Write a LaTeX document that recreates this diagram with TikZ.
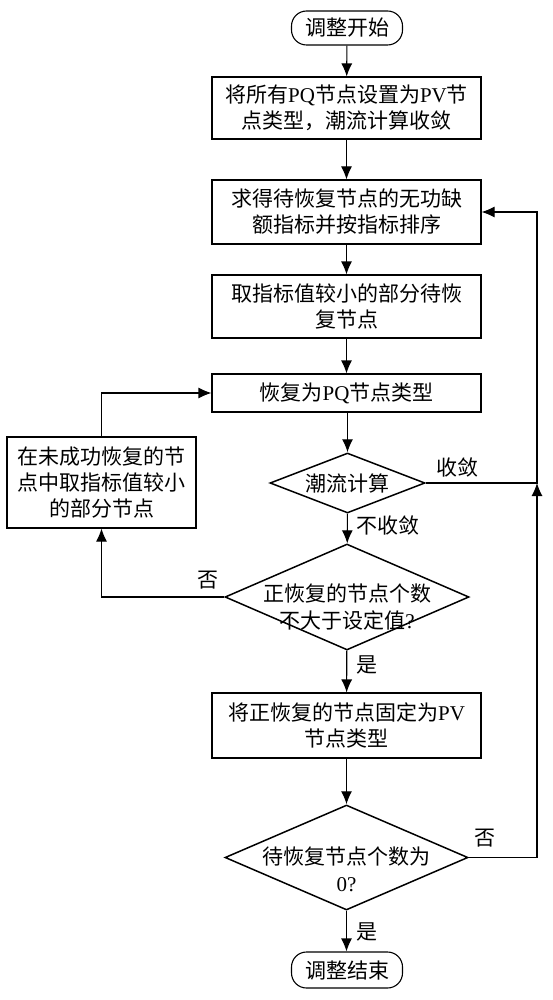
\documentclass[tikz,border=0pt]{standalone}
\usepackage{fontspec}
\setmainfont{Noto Sans CJK SC}
\newfontfamily\lat{Liberation Serif}
\usepackage{tikz}
\usetikzlibrary{shapes,arrows.meta,positioning,calc}
\tikzset{
    block/.style={rectangle, draw, line width=1.1pt, minimum width=269pt, text centered, align=center, inner sep=1pt, font=\fontsize{21}{26}\selectfont},
    term/.style={rectangle, draw, line width=1.1pt, rounded corners=15pt, minimum width=111pt, minimum height=34pt, font=\fontsize{21}{26}\selectfont},
    decision/.style={diamond, draw, line width=1.5pt, inner sep=0pt},
    dectext/.style={align=center, font=\fontsize{21}{27}\selectfont},
    line/.style={draw, line width=1.1pt, -{Latex[length=13pt,width=11pt]}},
    lbl/.style={inner sep=1pt, font=\fontsize{21}{24}\selectfont}
}

\begin{document}
\begin{tikzpicture}[x=1pt, y=-1pt]
    \useasboundingbox (0,0) rectangle (553,1000);

    % Main column
    \node [term] (start) at (347,28) {调整开始};
    \node [block, minimum height=62pt] (allpv) at (346.5,108) {将所有{\lat PQ}节点设置为{\lat PV}节\\点类型，潮流计算收敛};
    \node [block, minimum height=64pt] (sort) at (346.5,212) {求得待恢复节点的无功缺\\额指标并按指标排序};
    \node [block, minimum height=63pt] (pick) at (346.5,306.5) {取指标值较小的部分待恢\\复节点};
    \node [block, minimum height=38pt] (topq) at (346.5,393) {恢复为{\lat PQ}节点类型};
    \node [decision, minimum width=155pt, minimum height=60pt,
           label={[dectext]center:潮流计算}] (flow) at (347.5,483) {};
    \node [decision, minimum width=244pt, minimum height=106pt,
           label={[dectext, yshift=-10pt]center:{正恢复的节点个数\\不大于设定值{\lat ?}}}] (count) at (347,597) {};
    \node [block, minimum height=65pt] (fixpv) at (346.5,725.5) {将正恢复的节点固定为{\lat PV}\\节点类型};
    \node [decision, minimum width=243pt, minimum height=105pt,
           label={[dectext, yshift=-12pt]center:{待恢复节点个数为\\{\lat 0?}}}] (zero) at (346.5,857.5) {};
    \node [term, minimum height=36pt] (stop) at (347,970) {调整结束};

    % Side box
    \node [block, minimum width=189pt, minimum height=91pt] (retry) at (101.5,482.5) {在未成功恢复的节\\点中取指标值较小\\的部分节点};

    % Junction on the right
    \coordinate (jn) at (537,483);

    % Connections
    \path [line] (start) -- (allpv);
    \path [line] (allpv) -- (sort);
    \path [line] (sort) -- (pick);
    \path [line] (pick) -- (topq);
    \path [line] (topq.south -| flow.north) -- (flow);
    \path [line] (flow) -- (count);
    \path [line] (count) -- (fixpv);
    \path [line] (fixpv.south -| zero.north) -- (zero);
    \path [line] (zero) -- (stop.north -| zero.south);
    \path [line] (count.west) -| (retry.south);
    \path [line] (retry.north) |- (topq.west);
    \path [line] (zero.east) -| (jn);
    \path [line] (flow.east) -- (jn) |- (sort.east);

    % Labels
    \node [lbl] (lconv) at (457,467) {收敛};
    \node [lbl] (lnconv) at (388,525) {不收敛};
    \node [lbl] (lno1) at (208,580) {否};
    \node [lbl] (lyes1) at (367,665) {是};
    \node [lbl] (lno2) at (485,838) {否};
    \node [lbl] (lyes2) at (367,932) {是};
\end{tikzpicture}
\end{document}
